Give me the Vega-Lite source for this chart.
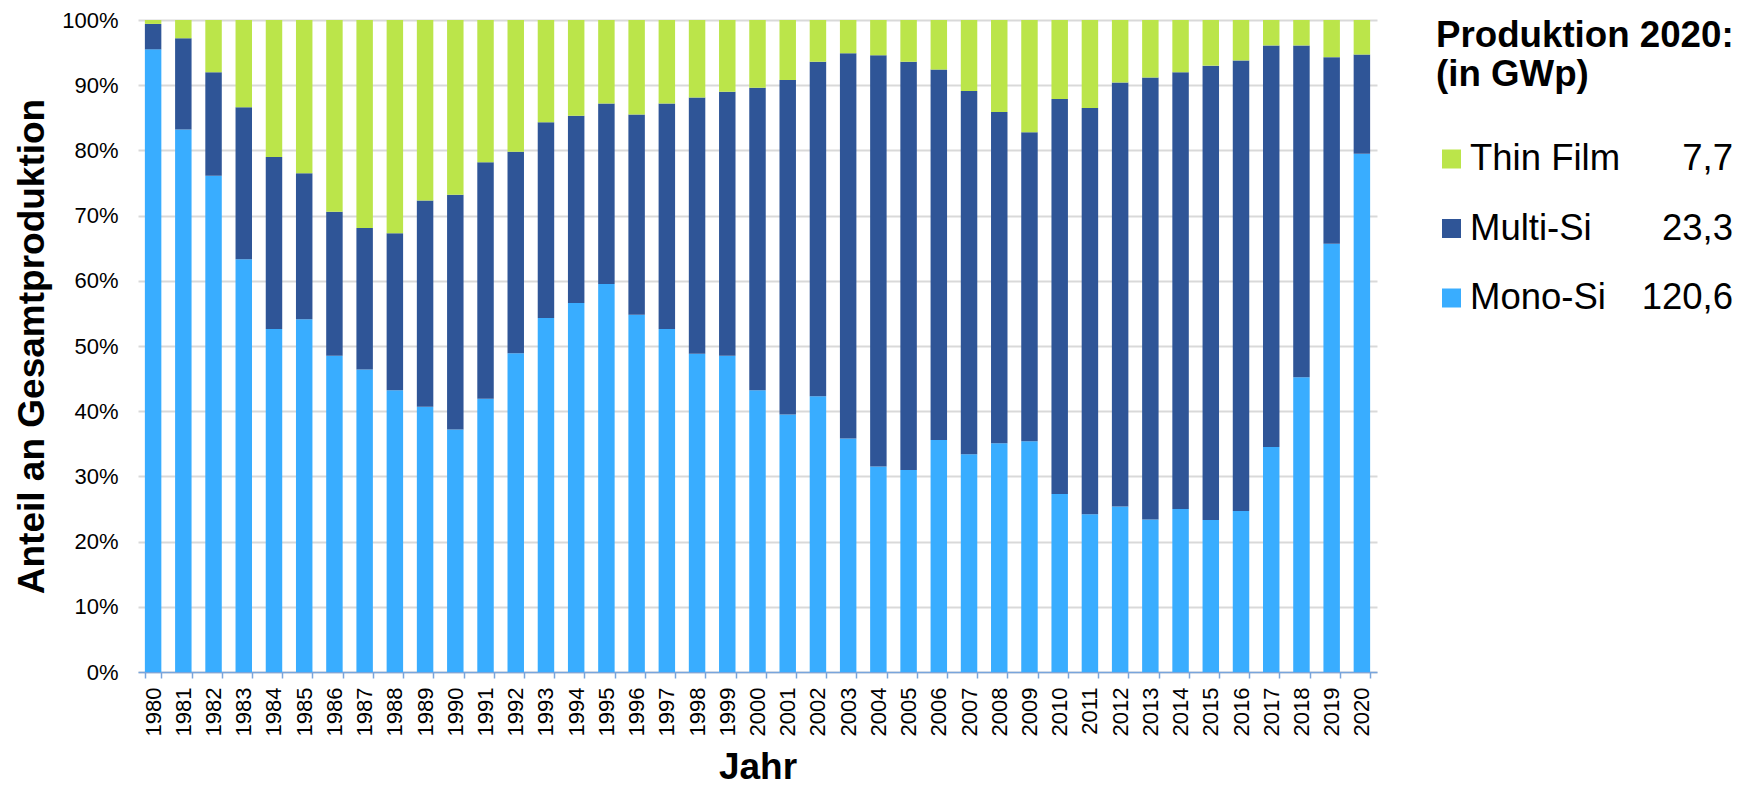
{
  "$schema": "https://vega.github.io/schema/vega-lite/v6.json",
  "background": "white",
  "padding": {"left": 13, "top": 9, "right": 0, "bottom": 0},
  "bounds": "flush",
  "spacing": 59,
  "config": {
    "font": "Liberation Sans",
    "view": {"stroke": null},
    "axis": {"labelColor": "black", "titleColor": "black", "labelFont": "Liberation Sans", "titleFont": "Liberation Sans"},
    "locale": {"number": {"decimal": ",", "thousands": ".", "grouping": [3], "currency": ["", " €"]}}
  },
  "hconcat": [
    {
      "width": 1239,
      "height": 652,
      "data": {
        "values": [
          {"Jahr": "1980", "Mono-Si": 95.5, "Multi-Si": 3.9, "Thin Film": 0.6},
          {"Jahr": "1981", "Mono-Si": 83.2, "Multi-Si": 14.0, "Thin Film": 2.8},
          {"Jahr": "1982", "Mono-Si": 76.1, "Multi-Si": 15.9, "Thin Film": 8.0},
          {"Jahr": "1983", "Mono-Si": 63.3, "Multi-Si": 23.3, "Thin Film": 13.4},
          {"Jahr": "1984", "Mono-Si": 52.6, "Multi-Si": 26.4, "Thin Film": 21.0},
          {"Jahr": "1985", "Mono-Si": 54.1, "Multi-Si": 22.4, "Thin Film": 23.5},
          {"Jahr": "1986", "Mono-Si": 48.5, "Multi-Si": 22.1, "Thin Film": 29.4},
          {"Jahr": "1987", "Mono-Si": 46.4, "Multi-Si": 21.7, "Thin Film": 31.9},
          {"Jahr": "1988", "Mono-Si": 43.2, "Multi-Si": 24.1, "Thin Film": 32.7},
          {"Jahr": "1989", "Mono-Si": 40.7, "Multi-Si": 31.6, "Thin Film": 27.7},
          {"Jahr": "1990", "Mono-Si": 37.2, "Multi-Si": 36.0, "Thin Film": 26.8},
          {"Jahr": "1991", "Mono-Si": 41.9, "Multi-Si": 36.3, "Thin Film": 21.8},
          {"Jahr": "1992", "Mono-Si": 48.9, "Multi-Si": 30.9, "Thin Film": 20.2},
          {"Jahr": "1993", "Mono-Si": 54.3, "Multi-Si": 30.0, "Thin Film": 15.7},
          {"Jahr": "1994", "Mono-Si": 56.6, "Multi-Si": 28.7, "Thin Film": 14.7},
          {"Jahr": "1995", "Mono-Si": 59.5, "Multi-Si": 27.7, "Thin Film": 12.8},
          {"Jahr": "1996", "Mono-Si": 54.8, "Multi-Si": 30.7, "Thin Film": 14.5},
          {"Jahr": "1997", "Mono-Si": 52.6, "Multi-Si": 34.6, "Thin Film": 12.8},
          {"Jahr": "1998", "Mono-Si": 48.8, "Multi-Si": 39.3, "Thin Film": 11.9},
          {"Jahr": "1999", "Mono-Si": 48.5, "Multi-Si": 40.5, "Thin Film": 11.0},
          {"Jahr": "2000", "Mono-Si": 43.2, "Multi-Si": 46.4, "Thin Film": 10.4},
          {"Jahr": "2001", "Mono-Si": 39.5, "Multi-Si": 51.3, "Thin Film": 9.2},
          {"Jahr": "2002", "Mono-Si": 42.3, "Multi-Si": 51.3, "Thin Film": 6.4},
          {"Jahr": "2003", "Mono-Si": 35.8, "Multi-Si": 59.1, "Thin Film": 5.1},
          {"Jahr": "2004", "Mono-Si": 31.5, "Multi-Si": 63.1, "Thin Film": 5.4},
          {"Jahr": "2005", "Mono-Si": 31.0, "Multi-Si": 62.6, "Thin Film": 6.4},
          {"Jahr": "2006", "Mono-Si": 35.6, "Multi-Si": 56.8, "Thin Film": 7.6},
          {"Jahr": "2007", "Mono-Si": 33.4, "Multi-Si": 55.7, "Thin Film": 10.9},
          {"Jahr": "2008", "Mono-Si": 35.1, "Multi-Si": 50.8, "Thin Film": 14.1},
          {"Jahr": "2009", "Mono-Si": 35.4, "Multi-Si": 47.4, "Thin Film": 17.2},
          {"Jahr": "2010", "Mono-Si": 27.3, "Multi-Si": 60.6, "Thin Film": 12.1},
          {"Jahr": "2011", "Mono-Si": 24.2, "Multi-Si": 62.3, "Thin Film": 13.5},
          {"Jahr": "2012", "Mono-Si": 25.4, "Multi-Si": 65.0, "Thin Film": 9.6},
          {"Jahr": "2013", "Mono-Si": 23.4, "Multi-Si": 67.8, "Thin Film": 8.8},
          {"Jahr": "2014", "Mono-Si": 25.0, "Multi-Si": 67.0, "Thin Film": 8.0},
          {"Jahr": "2015", "Mono-Si": 23.3, "Multi-Si": 69.7, "Thin Film": 7.0},
          {"Jahr": "2016", "Mono-Si": 24.7, "Multi-Si": 69.1, "Thin Film": 6.2},
          {"Jahr": "2017", "Mono-Si": 34.5, "Multi-Si": 61.6, "Thin Film": 3.9},
          {"Jahr": "2018", "Mono-Si": 45.2, "Multi-Si": 50.9, "Thin Film": 3.9},
          {"Jahr": "2019", "Mono-Si": 65.7, "Multi-Si": 28.6, "Thin Film": 5.7},
          {"Jahr": "2020", "Mono-Si": 79.5, "Multi-Si": 15.2, "Thin Film": 5.3}
        ]
      },
      "transform": [{"fold": ["Mono-Si", "Multi-Si", "Thin Film"], "as": ["Typ", "Anteil"]}],
      "mark": {"type": "bar"},
      "encoding": {
        "x": {
          "field": "Jahr",
          "type": "ordinal",
          "scale": {"paddingInner": 0.455, "paddingOuter": 0.2275},
          "axis": {
            "title": "Jahr",
            "titleFontSize": 37,
            "titleFontWeight": "bold",
            "titlePadding": 14,
            "labelAngle": -90,
            "labelFontSize": 22,
            "labelPadding": 9,
            "labelOverlap": false,
            "tickBand": "extent",
            "tickSize": 6,
            "tickColor": "#79A5DC",
            "tickWidth": 1.5,
            "domainColor": "#79A5DC",
            "domainWidth": 1.5,
            "grid": false
          }
        },
        "y": {
          "field": "Anteil",
          "type": "quantitative",
          "stack": "normalize",
          "scale": {"domain": [0, 1]},
          "axis": {
            "title": "Anteil an Gesamtproduktion",
            "titleFontSize": 37,
            "titleFontWeight": "bold",
            "titlePadding": 10,
            "values": [0, 0.1, 0.2, 0.3, 0.4, 0.5, 0.6, 0.7, 0.8, 0.9, 1],
            "format": ".0%",
            "labelFontSize": 22,
            "labelPadding": 20,
            "ticks": false,
            "domain": false,
            "grid": true,
            "gridColor": "#D9D9D9",
            "gridWidth": 2
          }
        },
        "color": {
          "field": "Typ",
          "type": "nominal",
          "scale": {"domain": ["Thin Film", "Multi-Si", "Mono-Si"], "range": ["#BBE54A", "#2F5597", "#39ADFF"]},
          "legend": null
        },
        "order": {"field": "Typ", "type": "ordinal", "sort": "ascending"}
      }
    },
    {
      "width": 31,
      "height": 278,
      "title": {
        "text": ["Produktion 2020:", "(in GWp)"],
        "anchor": "start",
        "orient": "top",
        "baseline": "top",
        "offset": -74,
        "fontSize": 36.7,
        "fontWeight": "bold",
        "lineHeight": 39.5,
        "color": "black",
        "font": "Liberation Sans"
      },
      "data": {
        "values": [
          {"Typ": "Thin Film", "GWp": 7.7},
          {"Typ": "Multi-Si", "GWp": 23.3},
          {"Typ": "Mono-Si", "GWp": 120.6}
        ]
      },
      "encoding": {
        "y": {
          "field": "Typ",
          "type": "nominal",
          "sort": ["Thin Film", "Multi-Si", "Mono-Si"],
          "scale": {"type": "point", "padding": 1, "align": 1},
          "axis": null
        }
      },
      "layer": [
        {
          "mark": {"type": "square", "size": 361, "filled": true, "opacity": 1},
          "encoding": {
            "color": {
              "field": "Typ",
              "type": "nominal",
              "scale": {"domain": ["Thin Film", "Multi-Si", "Mono-Si"], "range": ["#BBE54A", "#2F5597", "#39ADFF"]},
              "legend": null
            }
          }
        },
        {
          "mark": {"type": "text", "align": "left", "baseline": "middle", "dx": 18.5, "fontSize": 36.5, "color": "black"},
          "encoding": {"text": {"field": "Typ", "type": "nominal"}}
        },
        {
          "mark": {"type": "text", "align": "right", "baseline": "middle", "dx": 281.5, "fontSize": 36.5, "color": "black"},
          "encoding": {"text": {"field": "GWp", "type": "quantitative", "format": ".1f"}}
        }
      ]
    }
  ]
}
